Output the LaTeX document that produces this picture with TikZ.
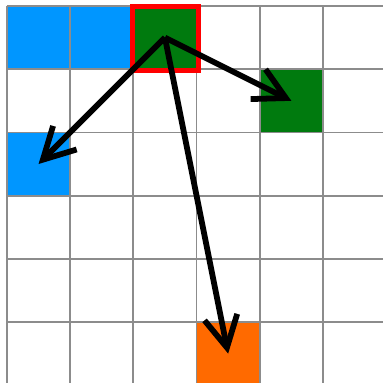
\documentclass[tikz,border=0pt]{standalone}
\usetikzlibrary{arrows.meta}
\definecolor{CellBlue}{HTML}{0096FF}
\definecolor{CellGreen}{HTML}{007A0E}
\definecolor{CellOrange}{HTML}{FF6A00}
\definecolor{GridGrey}{HTML}{8C8C8C}
\definecolor{MarkRed}{HTML}{FF0000}
\begin{document}
\begin{tikzpicture}[cell/.style={minimum size=1cm,inner sep=0pt,outer sep=0pt},move/.style={-{Straight Barb[length=14pt,width=15pt]},line width=2.6pt}]
\useasboundingbox (-0.11,0.095) rectangle (5.95,-5.965);
\fill[white] (-0.11,0.095) rectangle (5.95,-5.965);
\foreach \x/\y/\col/\name in {0/0/CellBlue/b1,1/0/CellBlue/b2,0/2/CellBlue/b3,2/0/CellGreen/start,4/1/CellGreen/g1,3/5/CellOrange/o1}{\node[cell,fill=\col] (\name) at (\x+.5,-\y-.5) {};}
\draw[GridGrey,line width=.8pt] (0,0) grid (6,-6);
\draw[MarkRed,line width=2.4pt] ([shift={(-.01,-.02)}]start.south west) rectangle ([shift={(.03,-.01)}]start.north east);
\foreach \t in {b3,g1,o1}{\draw[move] (start.center) -- (\t.center);}
\end{tikzpicture}
\end{document}
